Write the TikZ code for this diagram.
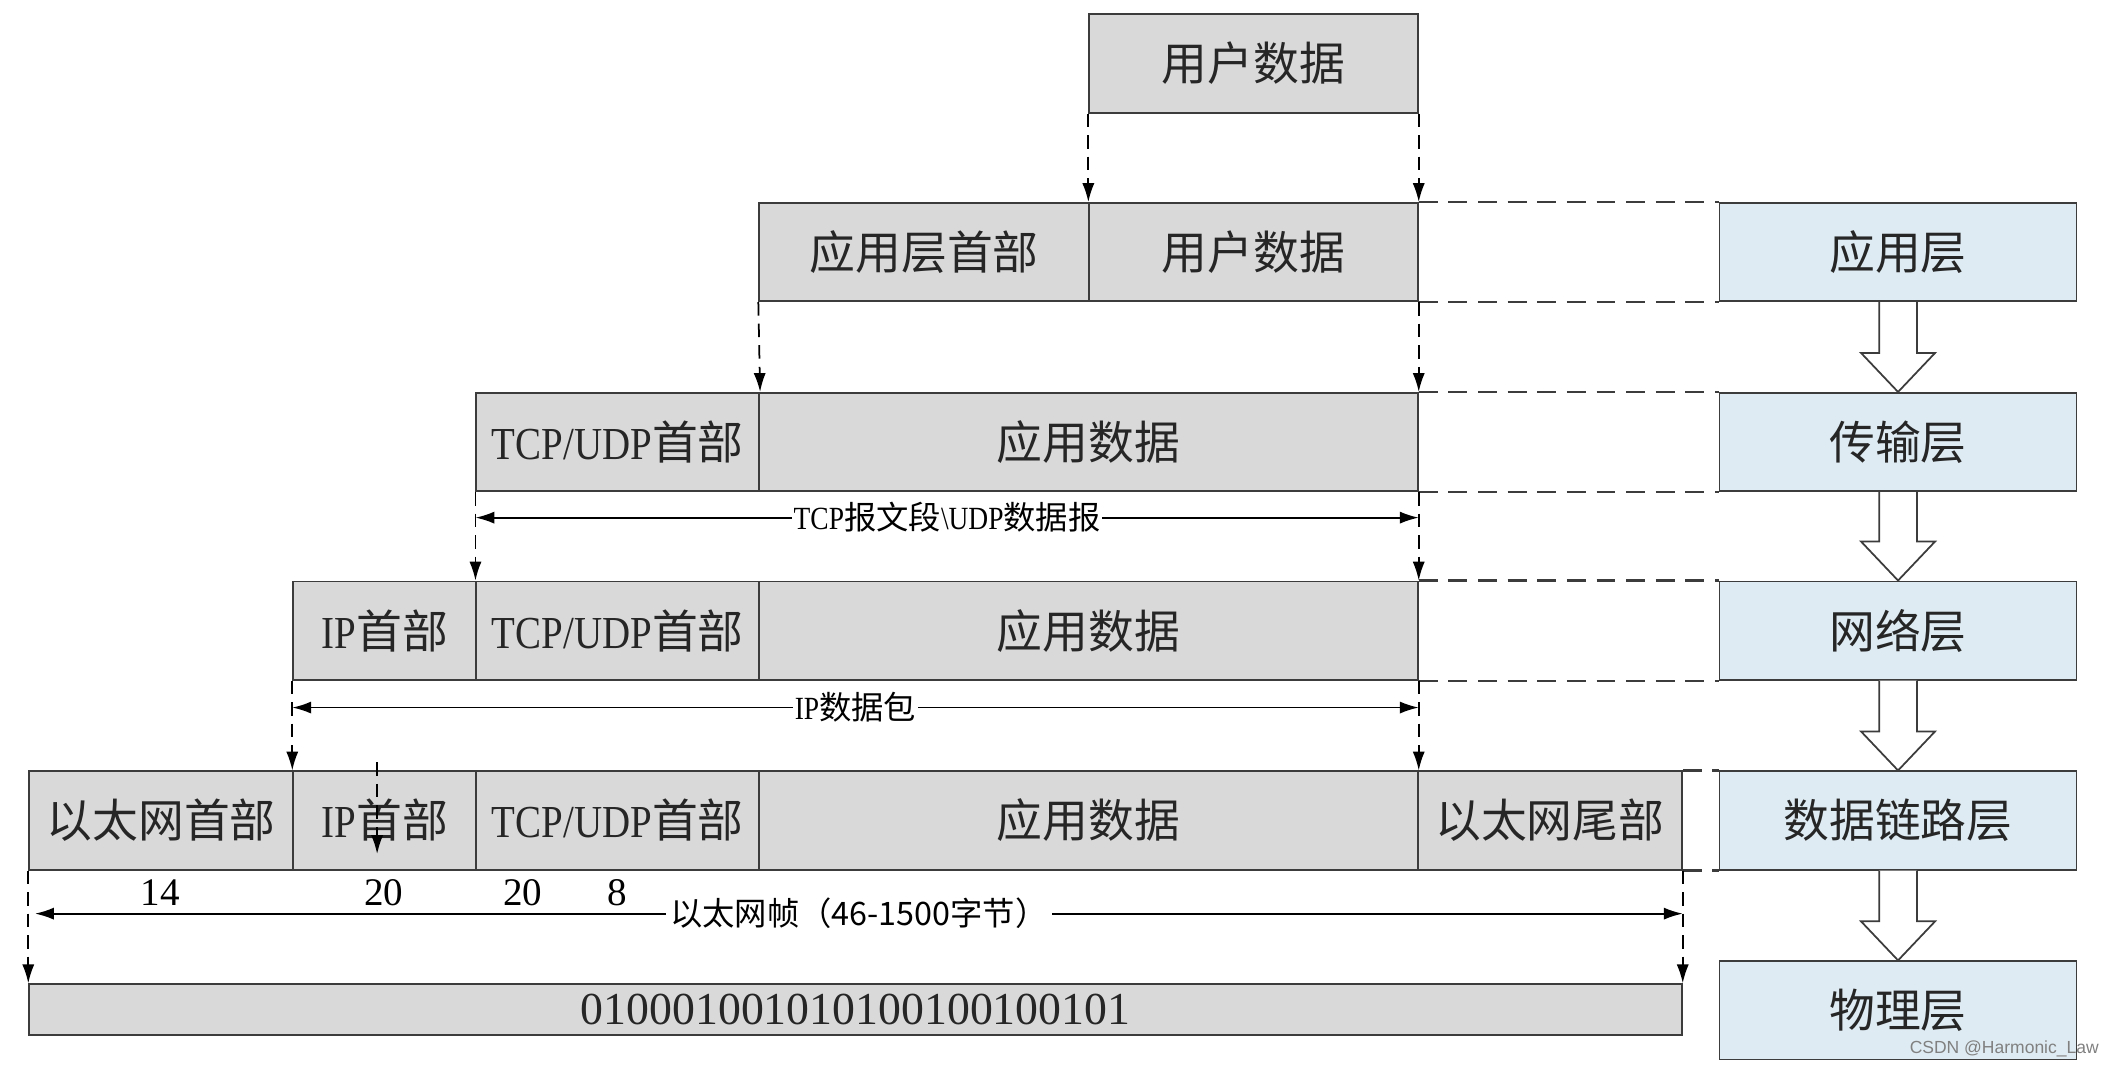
\documentclass[tikz,border=0pt]{standalone}
\usepackage{fontspec}
\setmainfont{Liberation Serif}
\newfontfamily\cjk{Noto Sans CJK SC}
\newfontfamily\narrow[FakeStretch=0.85]{Liberation Serif}
\newfontfamily\wmfont{Liberation Sans}
\usetikzlibrary{arrows.meta,calc}

\definecolor{pktgray}{RGB}{217,217,217}
\definecolor{layerblue}{RGB}{222,235,242}
\definecolor{edgegray}{RGB}{60,60,60}
\newcommand{\zh}[1]{{\cjk #1}}
\newcommand{\lat}[1]{{\narrow #1}}

\tikzset{
  pkt/.style={draw=edgegray, line width=1.3pt, fill=pktgray, anchor=north west,
    inner sep=0pt, minimum height=73pt, text=black!85, font=\fontsize{34}{40}\selectfont},
  layer/.style={pkt, fill=layerblue, minimum width=265pt},
  vdash/.style={line width=1.3pt, dash pattern=on 10pt off 6pt, -{Latex[length=14pt,width=9pt]}},
  hdash/.style={line width=1.6pt, dash pattern=on 14pt off 8pt, edgegray},
  span/.style={line width=1.3pt, {Latex[length=14pt,width=9pt]}-{Latex[length=14pt,width=9pt]}},
  spanlabel/.style={fill=white, inner sep=1pt, font=\fontsize{24}{28}\selectfont},
  bytes/.style={font=\fontsize{29}{32}\selectfont},
  blk/.style={draw=edgegray, line width=1.3pt, fill=white}
}

\begin{document}
\begin{tikzpicture}[x=1pt,y=-1pt]
  \useasboundingbox (0,0) rectangle (1568,793);

  % packet rows
  \node[pkt, minimum width=244pt] (u1) at (808,10) {\zh{用户数据}};

  \node[pkt, minimum width=245pt] (ah2) at (563,150) {\zh{应用层首部}};
  \node[pkt, minimum width=244pt] (u2) at (808,150) {\zh{用户数据}};

  \node[pkt, minimum width=210pt] (tcp3) at (353,291) {\lat{TCP/UDP}\zh{首部}};
  \node[pkt, minimum width=489pt] (ad3) at (563,291) {\zh{应用数据}};

  \node[pkt, minimum width=136pt] (ip4) at (217,431) {\lat{IP}\zh{首部}};
  \node[pkt, minimum width=210pt] (tcp4) at (353,431) {\lat{TCP/UDP}\zh{首部}};
  \node[pkt, minimum width=489pt] (ad4) at (563,431) {\zh{应用数据}};

  \node[pkt, minimum width=196pt] (eh5) at (21,572) {\zh{以太网首部}};
  \node[pkt, minimum width=136pt] (ip5) at (217,572) {\lat{IP}\zh{首部}};
  \node[pkt, minimum width=210pt] (tcp5) at (353,572) {\lat{TCP/UDP}\zh{首部}};
  \node[pkt, minimum width=489pt] (ad5) at (563,572) {\zh{应用数据}};
  \node[pkt, minimum width=196pt] (et5) at (1052,572) {\zh{以太网尾部}};

  \node[pkt, minimum width=1227pt, minimum height=38pt] (bits6) at (21,730) {010001001010100100100101};

  % layers
  \node[layer] (app) at (1276,150) {\zh{应用层}};
  \node[layer] (trans) at (1276,291) {\zh{传输层}};
  \node[layer] (net) at (1276,431) {\zh{网络层}};
  \node[layer] (link) at (1276,572) {\zh{数据链路层}};
  \node[layer] (phy) at (1276,713) {\zh{物理层}};

  \foreach \a/\b in {u2/app, ad3/trans, ad4/net, et5/link} {
    \draw[hdash] (\a.north east) -- (\b.north west);
    \draw[hdash] (\a.south east) -- (\b.south west);
  }

  \foreach \a/\b in {app/trans, trans/net, net/link, link/phy}
    \draw[blk] ($(\a.south)+(-14,0)$) -- ($(\b.north)+(-14,-29)$) -- ($(\b.north)+(-27.5,-29)$)
      -- (\b.north) -- ($(\b.north)+(27.5,-29)$) -- ($(\b.north)+(14,-29)$) -- ($(\a.south)+(14,0)$);

  % encapsulation arrows
  \foreach \a/\b in {u1.south west/u2.north west, u1.south east/u2.north east,
      ah2.south west/tcp3.north east, u2.south east/ad3.north east,
      tcp3.south west/tcp4.north west, ad3.south east/ad4.north east,
      ip4.south west/ip5.north west, ad4.south east/ad5.north east,
      eh5.south west/bits6.north west, et5.south east/bits6.north east}
    \draw[vdash] (\a) -- (\b);

  \coordinate (strayA) at (280,566);
  \coordinate (strayB) at (280,634);
  \draw[vdash] (strayA) -- (strayB);

  % lengths
  \draw[span] ($(tcp3.south west)+(0,19)$) -- node[spanlabel] (seglbl)
    {\lat{TCP}\zh{报文段}\lat{\textbackslash UDP}\zh{数据报}} ($(ad3.south east)+(0,19)$);
  \draw[span] ($(ip4.south west)+(0,20)$) -- node[spanlabel] (pktlbl)
    {\lat{IP}\zh{数据包}} ($(ad4.south east)+(0,20)$);
  \draw[span] ($(eh5.south west)+(5,32)$) -- node[spanlabel, inner xsep=3pt] (framelbl)
    {\zh{以太网帧（46-1500字节）}} ($(et5.south east)+(0,32)$);

  \node[bytes] (n14) at (119,663) {14};
  \node[bytes] (n20a) at (285,663) {20};
  \node[bytes] (n20b) at (388,663) {20};
  \node[bytes] (n8) at (458,663) {8};

  \node[font=\wmfont\fontsize{13}{15}\selectfont, text=gray] (mark) at (1488,779) {CSDN @Harmonic\_Law};
\end{tikzpicture}
\end{document}
